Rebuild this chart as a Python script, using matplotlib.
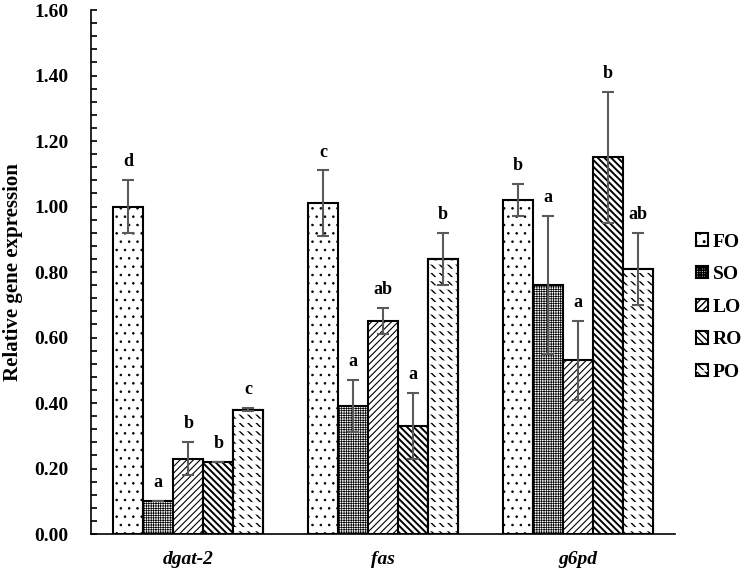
import numpy as np
from matplotlib import pyplot as plt

genes = ['dgat-2', 'fas', 'g6pd']
groups = ['FO', 'SO', 'LO', 'RO', 'PO']

# mean values and error per diet group (one entry per gene)
fo = [1.00, 1.01, 1.02]
so = [0.10, 0.39, 0.76]
lo = [0.23, 0.65, 0.53]
ro = [0.22, 0.33, 1.15]
po = [0.38, 0.84, 0.81]

fo_err = [0.08, 0.10, 0.05]
so_err = [0.00, 0.08, 0.21]
lo_err = [0.05, 0.04, 0.12]
ro_err = [0.00, 0.10, 0.20]
po_err = [0.005, 0.08, 0.11]

fo_sig = ['d', 'c', 'b']
so_sig = ['a', 'a', 'a']
lo_sig = ['b', 'ab', 'a']
ro_sig = ['b', 'a', 'b']
po_sig = ['c', 'b', 'ab']

values = [fo, so, lo, ro, po]
errors = [fo_err, so_err, lo_err, ro_err, po_err]
letters = [fo_sig, so_sig, lo_sig, ro_sig, po_sig]
hatches = ['..', '+++++++', '/////', '\\\\\\\\\\', '\\\\\\\\']
hatch_lw = [0.6, 0.5, 0.8, 1.4, 1.0]

plt.rcParams['font.family'] = ['Liberation Serif', 'DejaVu Serif']
plt.rcParams['font.weight'] = 'bold'

fig = plt.figure(figsize=(7.5, 5.72), dpi=100)
ax = fig.add_axes([0.1213, 0.0664, 0.7787, 0.9161])

x = np.arange(len(genes))
w = 0.154
handles = []
for i in range(5):
    pos = x + (i - 2) * w
    with plt.rc_context({'hatch.linewidth': hatch_lw[i]}):
        bars = ax.bar(pos, values[i], w, color='white', edgecolor='black',
                      linewidth=1.5, hatch=hatches[i], zorder=2)
    handle = bars[0]
    if groups[i] == 'PO':
        # break the diagonal lines into short dashes
        with plt.rc_context({'hatch.linewidth': 3.0}):
            cut = ax.bar(pos, values[i], w, color='none', edgecolor='white',
                         linewidth=0, hatch='--', zorder=2.1)
        ax.bar(pos, values[i], w, color='none', edgecolor='black',
               linewidth=1.5, zorder=2.2)
        handle = (bars[0], cut[0])
    handles.append(handle)
    ax.errorbar(pos, values[i], yerr=errors[i], fmt='none', ecolor='#5a5a5a',
                elinewidth=1.5, capsize=4, capthick=1.5, zorder=3)
    for j in range(len(genes)):
        ax.annotate(letters[i][j], (pos[j], values[i][j] + errors[i][j]),
                    xytext=(0, 10), textcoords='offset points', ha='center',
                    va='baseline', fontsize=13, fontweight='bold')

ax.set_xlim(-0.5, 2.5)
ax.set_ylim(0, 1.6)
ax.set_yticks(np.arange(0, 1.61, 0.2))
ax.set_yticks(np.arange(0, 1.61, 0.04), minor=True)
ax.set_yticklabels(['{:.2f}'.format(v) for v in np.arange(0, 1.61, 0.2)])
ax.tick_params(axis='y', which='both', direction='in', length=4, width=1.2,
               pad=16, labelsize=14)
ax.set_xticks(x)
ax.set_xticklabels(genes, fontstyle='italic', fontsize=14, fontweight='bold')
ax.tick_params(axis='x', length=0, pad=12)
for s in ['top', 'right']:
    ax.spines[s].set_visible(False)
for s in ['left', 'bottom']:
    ax.spines[s].set_linewidth(1.2)

ax.set_ylabel('Relative gene expression', fontsize=15, fontweight='bold',
              labelpad=8)

fig.legend(handles, groups, loc='center left', bbox_to_anchor=(0.915, 0.463),
           frameon=False, fontsize=14, handlelength=0.6, handleheight=0.6,
           handletextpad=0.25, labelspacing=0.8, borderpad=0)

plt.savefig('out.png', dpi=100)
